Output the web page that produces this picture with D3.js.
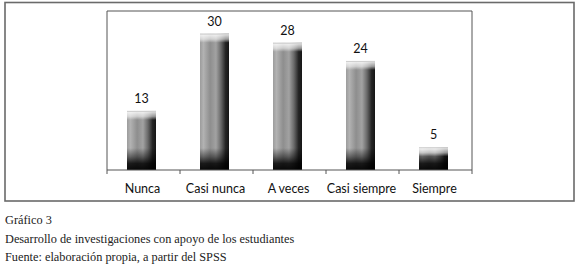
<!DOCTYPE html>
<html>
<head>
<meta charset="utf-8">
<script src="https://cdn.jsdelivr.net/npm/d3@7"></script>
<style>
  body { margin: 0; background: #fff; }
  svg { display: block; }
</style>
</head>
<body>
<div id="chart"></div>
<script>
var categories = ["Nunca", "Casi nunca", "A veces", "Casi siempre", "Siempre"];
var values = [13, 30, 28, 24, 5];
var captionLines = [
  "Gráfico 3",
  "Desarrollo de investigaciones con apoyo de los estudiantes",
  "Fuente: elaboración propia, a partir del SPSS"
];

var data = categories.map(function (c, i) { return { group: c, value: values[i] }; });

var W = 580, H = 266;
var plot = { left: 107, right: 472, top: 11, bottom: 170 };

var svg = d3.select("#chart")
  .append("svg")
  .attr("width", W)
  .attr("height", H);

var defs = svg.append("defs");

// horizontal shading of the bars
var hg = defs.append("linearGradient").attr("id", "barH")
  .attr("x1", "0%").attr("x2", "100%").attr("y1", "0%").attr("y2", "0%");
[["0%", "#9c9c9c"], ["12%", "#b2b2b2"], ["35%", "#8e8e8e"], ["55%", "#a2a2a2"],
 ["72%", "#6a6a6a"], ["88%", "#262626"], ["100%", "#151515"]].forEach(function (s) {
  hg.append("stop").attr("offset", s[0]).attr("stop-color", s[1]);
});

// top highlight
var tg = defs.append("linearGradient").attr("id", "barTop")
  .attr("x1", "0%").attr("x2", "0%").attr("y1", "0%").attr("y2", "100%");
tg.append("stop").attr("offset", "0%").attr("stop-color", "#fff").attr("stop-opacity", 0.9);
tg.append("stop").attr("offset", "60%").attr("stop-color", "#fff").attr("stop-opacity", 0.55);
tg.append("stop").attr("offset", "100%").attr("stop-color", "#fff").attr("stop-opacity", 0);

// dark base
var bg = defs.append("linearGradient").attr("id", "barBot")
  .attr("x1", "0%").attr("x2", "0%").attr("y1", "0%").attr("y2", "100%");
bg.append("stop").attr("offset", "0%").attr("stop-color", "#000").attr("stop-opacity", 0);
bg.append("stop").attr("offset", "40%").attr("stop-color", "#000").attr("stop-opacity", 0.45);
bg.append("stop").attr("offset", "70%").attr("stop-color", "#000").attr("stop-opacity", 0.85);
bg.append("stop").attr("offset", "100%").attr("stop-color", "#000").attr("stop-opacity", 0.95);

// outer frame
svg.append("rect")
  .attr("x", 5).attr("y", 2.5)
  .attr("width", 569).attr("height", 198.5)
  .attr("fill", "none")
  .attr("stroke", "#6a6a6a")
  .attr("stroke-width", 1.6);

var x = d3.scaleBand()
  .domain(categories)
  .range([plot.left, plot.right])
  .padding(0);

var y = d3.scaleLinear()
  .domain([0, 35])
  .range([plot.bottom, plot.top]);

var barW = 29;
var baseH = 22;
function barX(d) { return x(d.group) + (x.bandwidth() - barW) / 2 - 2; }
function barH(d) { return y(0) - y(d.value); }

// plot border (left, top, right)
svg.append("path")
  .attr("d", "M" + plot.left + "," + plot.bottom + "V" + plot.top + "H" + plot.right + "V" + plot.bottom)
  .attr("fill", "none")
  .attr("stroke", "#555")
  .attr("stroke-width", 1);

// bars
var bars = svg.append("g").selectAll("g")
  .data(data)
  .enter().append("g");

bars.append("rect")
  .attr("x", barX)
  .attr("y", function (d) { return y(d.value); })
  .attr("width", barW)
  .attr("height", barH)
  .attr("fill", "url(#barH)");

bars.append("rect")
  .attr("x", barX)
  .attr("y", function (d) { return y(0) - Math.min(baseH, barH(d)); })
  .attr("width", barW)
  .attr("height", function (d) { return Math.min(baseH, barH(d)); })
  .attr("fill", "url(#barBot)");

bars.append("rect")
  .attr("x", barX)
  .attr("y", function (d) { return y(d.value); })
  .attr("width", barW)
  .attr("height", 9)
  .attr("fill", "url(#barTop)");

bars.append("line")
  .attr("x1", barX)
  .attr("x2", function (d) { return barX(d) + barW; })
  .attr("y1", function (d) { return y(d.value) + 0.5; })
  .attr("y2", function (d) { return y(d.value) + 0.5; })
  .attr("stroke", "#cfcfcf")
  .attr("stroke-width", 1);

// value labels
bars.append("text")
  .attr("x", function (d) { return barX(d) + barW / 2; })
  .attr("y", function (d) { return y(d.value) - 8; })
  .attr("text-anchor", "middle")
  .attr("font-family", "Lato, 'Open Sans', sans-serif")
  .attr("font-size", "12.5px")
  .attr("fill", "#111")
  .text(function (d) { return d.value; });

// x axis
var xAxis = svg.append("g")
  .attr("transform", "translate(0," + plot.bottom + ")");

xAxis.append("line")
  .attr("x1", plot.left).attr("x2", plot.right)
  .attr("stroke", "#555");

var edges = categories.map(function (c) { return x(c); }).concat([plot.right]);
xAxis.selectAll(".tick")
  .data(edges)
  .enter().append("line")
  .attr("x1", function (d) { return d; })
  .attr("x2", function (d) { return d; })
  .attr("y1", 0).attr("y2", 4)
  .attr("stroke", "#555");

xAxis.selectAll(".lbl")
  .data(categories)
  .enter().append("text")
  .attr("x", function (d) { return x(d) + x.bandwidth() / 2 - 1; })
  .attr("y", 22.5)
  .attr("text-anchor", "middle")
  .attr("font-family", "Lato, 'Open Sans', sans-serif")
  .attr("font-size", "12.5px")
  .attr("fill", "#111")
  .text(function (d) { return d; });

// caption
svg.append("g").selectAll("text")
  .data(captionLines)
  .enter().append("text")
  .attr("x", 5)
  .attr("y", function (d, i) { return 224 + i * 18.5; })
  .attr("font-family", "'Liberation Serif', 'DejaVu Serif', serif")
  .attr("font-size", "12.3px")
  .attr("fill", "#222")
  .text(function (d) { return d; });
</script>
</body>
</html>
